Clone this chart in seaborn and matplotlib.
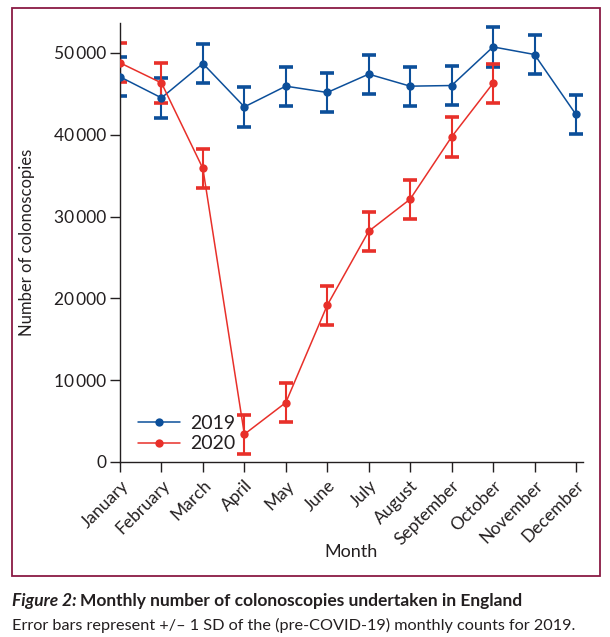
import matplotlib
matplotlib.use("Agg")
import matplotlib.pyplot as plt
from matplotlib.patches import Rectangle
import seaborn as sns
import numpy as np
import pandas as pd

months = ["January", "February", "March", "April", "May", "June", "July",
          "August", "September", "October", "November", "December"]
counts_2019 = [47070, 44500, 48700, 43400, 45930, 45160, 47400, 45930, 46010, 50730, 49800, 42470]
counts_2020 = [48780, 46330, 35870, 3390, 7260, 19160, 28200, 32120, 39730, 46290]
sd_2019 = 2400
yticks = [0, 10000, 20000, 30000, 40000, 50000]
ytick_labels = ["0", "10\u2009000", "20\u2009000", "30\u2009000", "40\u2009000", "50\u2009000"]

BLUE = "#0c4f9a"
RED = "#e8302a"
TXT = "#231f20"

sns.set_theme(style="white")
plt.rcParams["font.family"] = ["Lato", "DejaVu Sans"]

df = pd.concat([
    pd.DataFrame({"idx": np.arange(len(counts_2019)), "count": counts_2019, "year": "2019"}),
    pd.DataFrame({"idx": np.arange(len(counts_2020)), "count": counts_2020, "year": "2020"}),
])

fig = plt.figure(figsize=(6.10, 6.37), dpi=100)
ax = fig.add_axes([120 / 610, 1 - 462 / 637, (583 - 120) / 610, (462 - 23) / 637])

sns.lineplot(data=df, x="idx", y="count", hue="year", palette={"2019": BLUE, "2020": RED},
             marker="o", markersize=6, markeredgewidth=0, linewidth=1.1, ax=ax, zorder=3)

for vals, col in [(counts_2019, BLUE), (counts_2020, RED)]:
    ax.errorbar(np.arange(len(vals)), vals, yerr=sd_2019, fmt="none", ecolor=col,
                elinewidth=1.5, capsize=5, capthick=2.6, zorder=2)

ax.set_xlim(0, 11.17)
ax.set_ylim(0, 53650)
ax.set_xticks(np.arange(12))
ax.set_xticklabels(months, rotation=45, ha="right", rotation_mode="anchor", fontsize=12.5, color=TXT)
ax.set_yticks(yticks)
ax.set_yticklabels(ytick_labels, fontsize=12.5, color=TXT)
ax.tick_params(axis="both", direction="out", length=7, width=1, color=TXT, pad=3,
               bottom=True, left=True)
ax.tick_params(axis="x", pad=4)
for s in ["top", "right"]:
    ax.spines[s].set_visible(False)
for s in ["left", "bottom"]:
    ax.spines[s].set_color(TXT)
    ax.spines[s].set_linewidth(1)
ax.set_xlabel("Month", fontsize=13, color=TXT)
ax.xaxis.set_label_coords((351 - 120) / 463, -(544 - 462) / 439)
ax.set_ylabel("Number of colonoscopies", fontsize=12, color=TXT)
ax.yaxis.set_label_coords(-(120 - 35) / 463, 0.5)

leg = ax.legend(title=None, frameon=False, loc="lower left", bbox_to_anchor=(0.0, -0.018),
                fontsize=14, handlelength=2.2, handletextpad=0.5, labelspacing=0.2)
for t in leg.get_texts():
    t.set_color(TXT)

fig.patches.append(Rectangle((12.5 / 610, 1 - 575.7 / 637), (600 - 12.5) / 610, (575.7 - 8) / 637,
                             transform=fig.transFigure, fill=False, edgecolor="#8a1a44",
                             linewidth=1.3, zorder=0))

# caption, scaled so each line spans the same width as in the reference
renderer = fig.canvas.get_renderer()
fs = 13
line2 = fig.text(12 / 610, 1 - 625 / 637,
                 "Error bars represent +/\u2013 1 SD of the (pre-COVID-19) monthly counts for 2019.",
                 fontsize=fs, color=TXT, va="center", ha="left")
w2 = line2.get_window_extent(renderer).width
line2.set_fontsize(fs * (575 - 12) / w2)

t1 = fig.text(12 / 610, 1 - 601 / 637, "Figure 2: ", fontsize=fs, style="italic", fontweight="bold",
              color=TXT, va="center", ha="left")
t2 = fig.text(0, 1 - 601 / 637, "Monthly number of colonoscopies undertaken in England",
              fontsize=fs, fontweight="bold", color=TXT, va="center", ha="left")
wa = t1.get_window_extent(renderer).width + t2.get_window_extent(renderer).width
fs1 = fs * (522 - 12) / wa
t1.set_fontsize(fs1)
t2.set_fontsize(fs1)
w1 = t1.get_window_extent(renderer).width
t2.set_x((12 + w1) / 610)

fig.savefig("out.png", dpi=100)
